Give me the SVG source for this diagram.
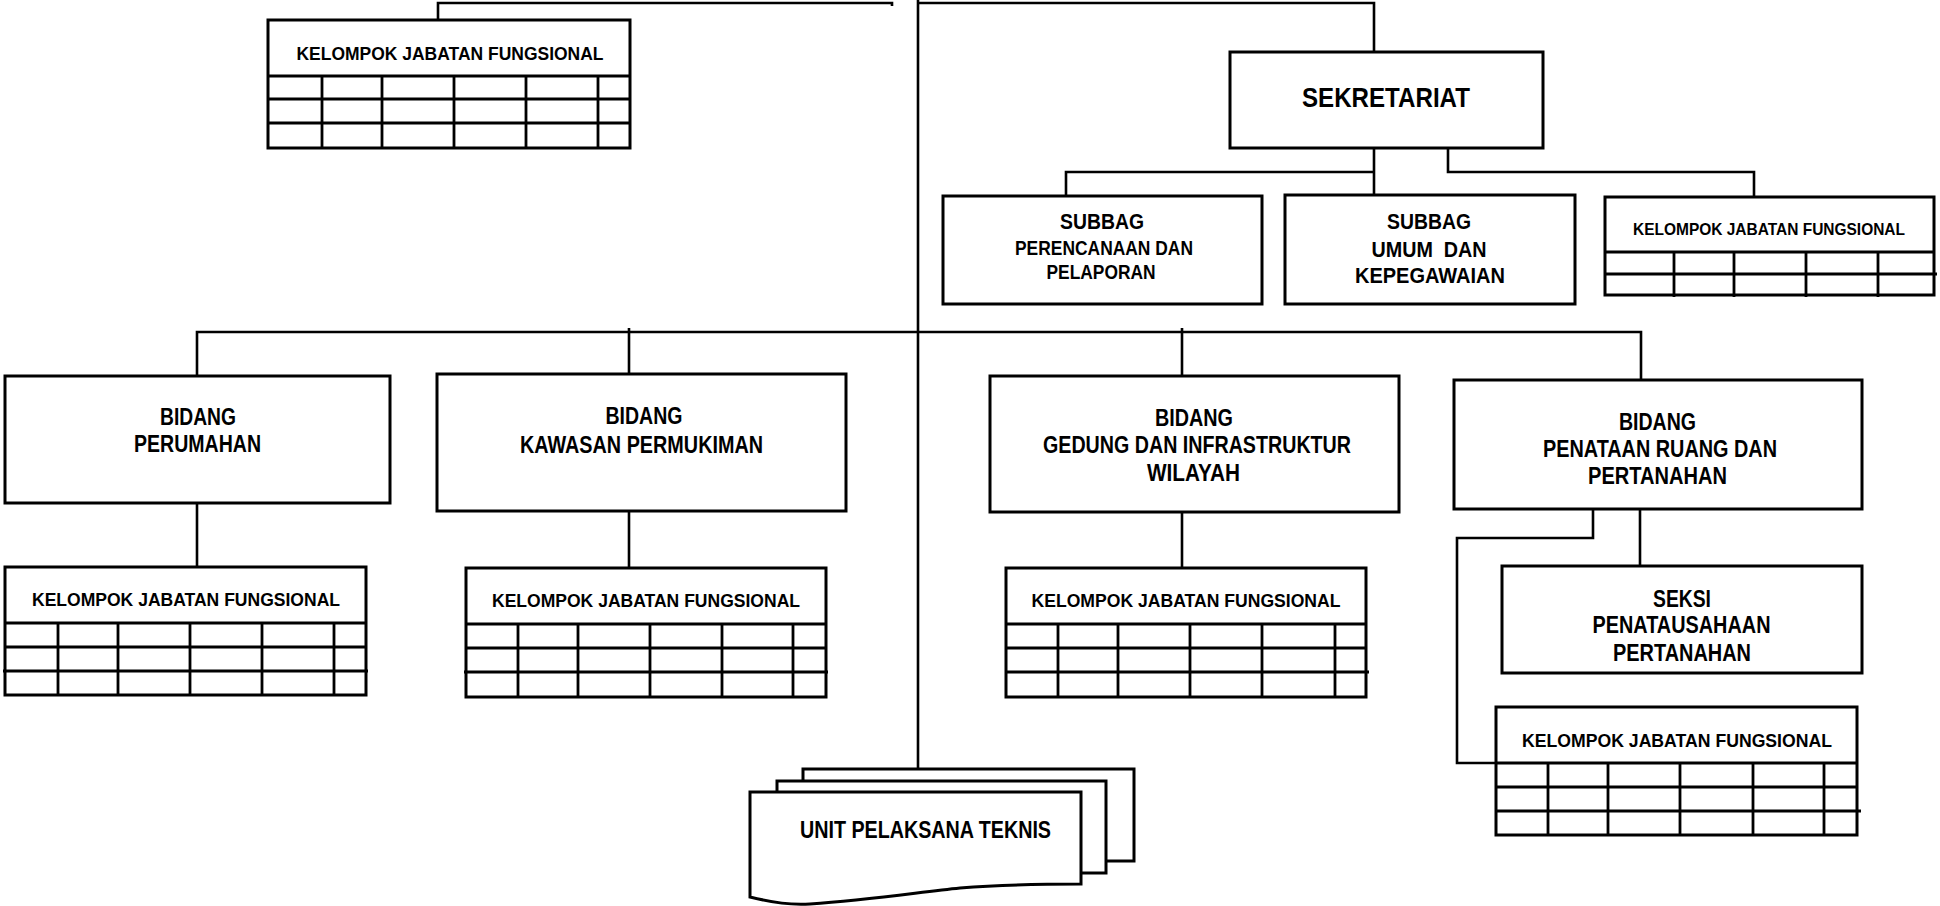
<svg xmlns="http://www.w3.org/2000/svg" width="1940" height="906" viewBox="0 0 1940 906">
<style>
.box{fill:#fff;stroke:#000;stroke-width:3}
.ln{fill:none;stroke:#000;stroke-width:2.6}
.tb{fill:none;stroke:#000;stroke-width:2.8}
text{font-family:"Liberation Sans Narrow","Arial Narrow","Liberation Sans",sans-serif;font-weight:bold;fill:#000;text-anchor:middle}
.k{font-family:"Liberation Sans",Arial,sans-serif;font-size:17.5px}
.b{font-size:23.5px}
.s{font-size:22px}
.m{font-size:19.5px}
</style>
<rect width="1940" height="906" fill="#fff"/>
<g id="connectors">
<path class="ln" d="M438,20 V3 H892 V6"/>
<path class="ln" d="M918,0 V769"/>
<path class="ln" d="M918,3 H1374 V52"/>
<path class="ln" d="M1374,148 V195 M1066,196 V172 H1374 M1448,148 V172 H1754 V197"/>
<path class="ln" d="M197,376 V332 H1641 V380 M629,328 V374 M1182,328 V376"/>
<path class="ln" d="M197,503 V567 M629,511 V568 M1182,512 V568"/>
<path class="ln" d="M1593,509 V538 H1457 V763 H1496 M1640,509 V566"/>
</g>
<g id="kjf-top">
<rect class="box" x="268" y="20" width="362" height="128"/>
<path class="tb" d="M268,76 H630 M268,99 H630 M268,123 H630 M322,76 V148 M382,76 V148 M454,76 V148 M526,76 V148 M598,76 V148"/>
<text class="k" x="450" y="60" textLength="307" lengthAdjust="spacingAndGlyphs">KELOMPOK JABATAN FUNGSIONAL</text>
</g>
<g id="sekretariat">
<rect class="box" x="1230" y="52" width="313" height="96"/>
<text style="font-size:28px" x="1386" y="107" textLength="168" lengthAdjust="spacingAndGlyphs">SEKRETARIAT</text>
</g>
<g id="subbag-perencanaan">
<rect class="box" x="943" y="196" width="319" height="108"/>
<text class="s" x="1102" y="229" textLength="84" lengthAdjust="spacingAndGlyphs">SUBBAG</text>
<text class="m" x="1104" y="255" textLength="178" lengthAdjust="spacingAndGlyphs">PERENCANAAN DAN</text>
<text class="m" x="1101" y="279" textLength="109" lengthAdjust="spacingAndGlyphs">PELAPORAN</text>
</g>
<g id="subbag-umum">
<rect class="box" x="1285" y="195" width="290" height="109"/>
<text class="s" x="1429" y="229" textLength="84" lengthAdjust="spacingAndGlyphs">SUBBAG</text>
<text class="s" x="1429" y="257" textLength="115" lengthAdjust="spacingAndGlyphs" xml:space="preserve">UMUM  DAN</text>
<text class="s" x="1430" y="283" textLength="150" lengthAdjust="spacingAndGlyphs">KEPEGAWAIAN</text>
</g>
<g id="kjf-sekretariat">
<rect class="box" x="1605" y="197" width="329" height="98"/>
<path class="tb" d="M1605,252 H1934 M1605,274 H1937 M1674,252 V297 M1734,252 V297 M1806,252 V297 M1878,252 V297"/>
<text class="k" style="font-size:16.5px" x="1769" y="235" textLength="272" lengthAdjust="spacingAndGlyphs">KELOMPOK JABATAN FUNGSIONAL</text>
</g>
<g id="bidang-perumahan">
<rect class="box" x="5" y="376" width="385" height="127"/>
<text class="b" x="198" y="425" textLength="76" lengthAdjust="spacingAndGlyphs">BIDANG</text>
<text class="b" x="197.5" y="452" textLength="127" lengthAdjust="spacingAndGlyphs">PERUMAHAN</text>
</g>
<g id="kjf-perumahan">
<rect class="box" x="5" y="567" width="361" height="128"/>
<path class="tb" d="M5,623 H366 M5,647 H366 M3,671 H368 M58,623 V695 M118,623 V695 M190,623 V695 M262,623 V695 M334,623 V695"/>
<text class="k" x="186" y="606" textLength="308" lengthAdjust="spacingAndGlyphs">KELOMPOK JABATAN FUNGSIONAL</text>
</g>
<g id="bidang-kawasan">
<rect class="box" x="437" y="374" width="409" height="137"/>
<text class="b" x="644" y="424" textLength="77" lengthAdjust="spacingAndGlyphs">BIDANG</text>
<text class="b" x="641.5" y="453" textLength="243" lengthAdjust="spacingAndGlyphs">KAWASAN PERMUKIMAN</text>
</g>
<g id="kjf-kawasan">
<rect class="box" x="466" y="568" width="360" height="129"/>
<path class="tb" d="M466,624 H826 M466,648 H826 M464,672 H828 M518,624 V697 M578,624 V697 M650,624 V697 M722,624 V697 M793,624 V697"/>
<text class="k" x="646" y="607" textLength="308" lengthAdjust="spacingAndGlyphs">KELOMPOK JABATAN FUNGSIONAL</text>
</g>
<g id="bidang-gedung">
<rect class="box" x="990" y="376" width="409" height="136"/>
<text class="b" x="1194" y="426" textLength="78" lengthAdjust="spacingAndGlyphs">BIDANG</text>
<text class="b" x="1197" y="453" textLength="308" lengthAdjust="spacingAndGlyphs">GEDUNG DAN INFRASTRUKTUR</text>
<text class="b" x="1193.5" y="481" textLength="93" lengthAdjust="spacingAndGlyphs">WILAYAH</text>
</g>
<g id="kjf-gedung">
<rect class="box" x="1006" y="568" width="360" height="129"/>
<path class="tb" d="M1006,624 H1366 M1006,648 H1366 M1006,672 H1369 M1058,624 V697 M1118,624 V697 M1190,624 V697 M1262,624 V697 M1335,624 V697"/>
<text class="k" x="1186" y="607" textLength="309" lengthAdjust="spacingAndGlyphs">KELOMPOK JABATAN FUNGSIONAL</text>
</g>
<g id="bidang-penataan">
<rect class="box" x="1454" y="380" width="408" height="129"/>
<text class="b" x="1657.5" y="430" textLength="77" lengthAdjust="spacingAndGlyphs">BIDANG</text>
<text class="b" x="1660" y="457" textLength="234" lengthAdjust="spacingAndGlyphs">PENATAAN RUANG DAN</text>
<text class="b" x="1657.5" y="484" textLength="139" lengthAdjust="spacingAndGlyphs">PERTANAHAN</text>
</g>
<g id="seksi">
<rect class="box" x="1502" y="566" width="360" height="107"/>
<text class="b" x="1682" y="607" textLength="58" lengthAdjust="spacingAndGlyphs">SEKSI</text>
<text class="b" x="1681.5" y="633" textLength="178" lengthAdjust="spacingAndGlyphs">PENATAUSAHAAN</text>
<text class="b" x="1682" y="661" textLength="138" lengthAdjust="spacingAndGlyphs">PERTANAHAN</text>
</g>
<g id="kjf-penataan">
<rect class="box" x="1496" y="707" width="361" height="128"/>
<path class="tb" d="M1496,763 H1857 M1496,787 H1857 M1496,811 H1861 M1548,763 V835 M1608,763 V835 M1680,763 V835 M1753,763 V835 M1824,763 V835"/>
<text class="k" style="font-size:18.5px" x="1677" y="747" textLength="310" lengthAdjust="spacingAndGlyphs">KELOMPOK JABATAN FUNGSIONAL</text>
</g>
<g id="upt">
<rect class="box" x="803" y="769" width="331" height="92"/>
<rect class="box" x="777" y="781" width="329" height="92"/>
<path class="box" d="M750,792 H1081 V884 C1050,884 1010,884 960,888 C920,892 870,900 810,904 C790,905 775,903 750,897 Z"/>
<text style="font-size:24px" x="925.5" y="838" textLength="251" lengthAdjust="spacingAndGlyphs">UNIT PELAKSANA TEKNIS</text>
</g>
</svg>
